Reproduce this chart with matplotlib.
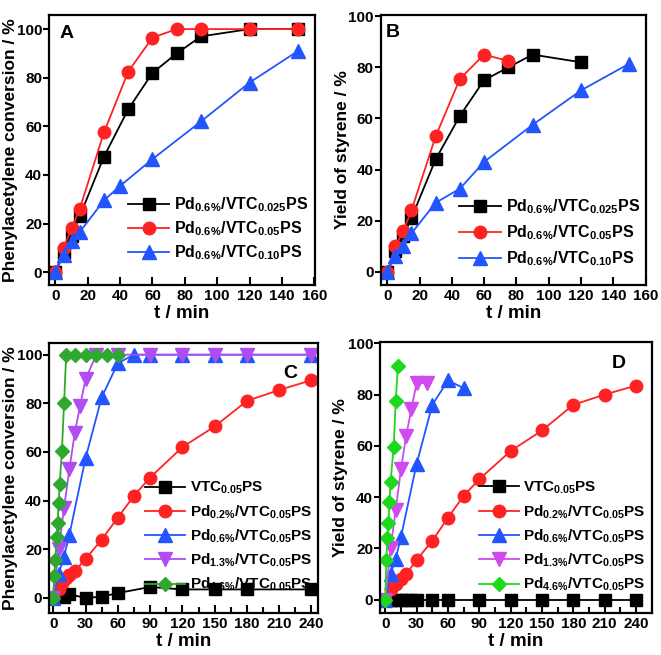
import matplotlib
matplotlib.use('Agg')
import matplotlib.pyplot as plt

plt.rcParams['font.family'] = ['Liberation Sans', 'DejaVu Sans']
plt.rcParams['font.weight'] = 'bold'
plt.rcParams['mathtext.fontset'] = 'custom'
plt.rcParams['mathtext.rm'] = 'Liberation Sans:bold'
plt.rcParams['mathtext.bf'] = 'Liberation Sans:bold'
plt.rcParams['mathtext.it'] = 'Liberation Sans:bold'

# ---- panel A: conversion, different VTC loading ----
a_t_025 = [0, 5, 10, 15, 30, 45, 60, 75, 90, 120, 150]
a_y_025 = [0, 8, 15, 23, 47.5, 67, 82, 90, 97, 100, 100]
a_t_05 = [0, 5, 10, 15, 30, 45, 60, 75, 90, 120, 150]
a_y_05 = [0, 10, 18, 26, 57.5, 82.5, 96.5, 100, 100, 100, 100]
a_t_10 = [0, 5, 10, 15, 30, 40, 60, 90, 120, 150]
a_y_10 = [0, 7, 13, 16.5, 29.5, 35.5, 46.5, 62, 78, 91]

# ---- panel B: styrene yield, different VTC loading ----
b_t_025 = [0, 5, 10, 15, 30, 45, 60, 75, 90, 120]
b_y_025 = [0, 8, 14, 21, 44, 61, 75, 80, 85, 82]
b_t_05 = [0, 5, 10, 15, 30, 45, 60, 75]
b_y_05 = [0, 10, 16, 24, 53, 75.5, 85, 82.5]
b_t_10 = [0, 5, 10, 15, 30, 45, 60, 90, 120, 150]
b_y_10 = [0, 6, 10, 15, 27, 32.5, 43, 57.5, 71, 81.5]

# ---- panel C: conversion, different Pd loading ----
c_t_vtc = [0, 10, 15, 30, 45, 60, 90, 120, 150, 180, 240]
c_y_vtc = [0, 0.5, 1.5, 0, 0.5, 2, 4.5, 3.5, 3.5, 3.5, 3.5]
c_t_02 = [0, 5, 8, 12, 15, 20, 30, 45, 60, 75, 90, 120, 150, 180, 210, 240]
c_y_02 = [0, 3.5, 6, 8, 9.5, 11, 16, 24, 33, 42, 49.5, 62, 70.5, 81, 85.5, 89.5]
c_t_06 = [0, 5, 10, 15, 30, 45, 60, 75, 90, 120, 150, 180, 240]
c_y_06 = [0, 10, 17, 26, 57.5, 82.5, 96.5, 100, 100, 100, 100, 100, 100]
c_t_13 = [0, 5, 10, 15, 20, 25, 30, 40, 60, 90, 120, 150, 180, 240]
c_y_13 = [0, 20, 37, 53, 68, 79, 90, 100, 100, 100, 100, 100, 100, 100]
c_t_46 = [0, 1, 2, 3, 4, 5, 6, 8, 10, 12, 20, 30, 40, 50, 60]
c_y_46 = [0, 9, 15.5, 25, 31, 39, 47, 60.5, 80, 100, 100, 100, 100, 100, 100]

# ---- panel D: styrene yield, different Pd loading ----
d_t_vtc = [0, 5, 10, 15, 20, 25, 30, 45, 60, 90, 120, 150, 180, 210, 240]
d_y_vtc = [0, 0, 0, 0, 0, 0, 0, 0, 0, 0, 0, 0, 0, 0, 0]
d_t_02 = [0, 5, 10, 15, 20, 30, 45, 60, 75, 90, 120, 150, 180, 210, 240]
d_y_02 = [0, 4, 6, 8, 10, 15.5, 23, 32, 40.5, 47, 58, 66, 76, 80, 83.5]
d_t_06 = [0, 5, 10, 15, 30, 45, 60, 75]
d_y_06 = [0, 10, 16, 24.5, 53, 76, 85.5, 82.5]
d_t_13 = [0, 5, 10, 15, 20, 25, 30, 40]
d_y_13 = [0, 20, 35, 51, 64, 74.5, 84.5, 84.5]
d_t_46 = [0, 1, 2, 3, 4, 5, 8, 10, 12]
d_y_46 = [0, 15.5, 24, 30, 38, 46, 59.5, 77.5, 91]

lab_a = [r'$\mathbf{Pd}_{\mathbf{0.6\%}}\mathbf{/VTC}_{\mathbf{0.025}}\mathbf{PS}$',
         r'$\mathbf{Pd}_{\mathbf{0.6\%}}\mathbf{/VTC}_{\mathbf{0.05}}\mathbf{PS}$',
         r'$\mathbf{Pd}_{\mathbf{0.6\%}}\mathbf{/VTC}_{\mathbf{0.10}}\mathbf{PS}$']
lab_c = [r'$\mathbf{VTC}_{\mathbf{0.05}}\mathbf{PS}$',
         r'$\mathbf{Pd}_{\mathbf{0.2\%}}\mathbf{/VTC}_{\mathbf{0.05}}\mathbf{PS}$',
         r'$\mathbf{Pd}_{\mathbf{0.6\%}}\mathbf{/VTC}_{\mathbf{0.05}}\mathbf{PS}$',
         r'$\mathbf{Pd}_{\mathbf{1.3\%}}\mathbf{/VTC}_{\mathbf{0.05}}\mathbf{PS}$',
         r'$\mathbf{Pd}_{\mathbf{4.6\%}}\mathbf{/VTC}_{\mathbf{0.05}}\mathbf{PS}$']

BLACK = 'black'
RED = '#ff2222'
BLUE = '#2255ff'
PURPLE_C = '#b04cf0'
PURPLE_D = '#d04af0'
GREEN_C = '#2ea82e'
GREEN_D = '#1ed81e'

fig = plt.figure(figsize=(6.61, 6.55), dpi=100)
axA = fig.add_axes([0.0741, 0.5649, 0.4025, 0.4122])
axB = fig.add_axes([0.576, 0.5649, 0.402, 0.4122])
axC = fig.add_axes([0.0741, 0.0641, 0.4069, 0.4122])
axD = fig.add_axes([0.575, 0.0641, 0.411, 0.4142])


def series(ax, t, y, color, marker, label, ms=8.5):
    ax.plot(t, y, color=color, marker=marker, ms=ms, lw=1.3,
            mec=color, mfc=color, label=label)


def style(ax, ylabel, xlim, ylim, xticks, letter, lpos):
    ax.set_xlim(*xlim)
    ax.set_ylim(*ylim)
    ax.set_xticks(xticks)
    ax.set_yticks([0, 20, 40, 60, 80, 100])
    for s in ax.spines.values():
        s.set_linewidth(1.6)
    ax.tick_params(axis='x', which='both', direction='in', length=6, width=1.5,
                   labelsize=11, pad=3)
    ax.tick_params(axis='y', direction='out', length=4, width=1.5, labelsize=11, pad=1)
    for lb in ax.get_xticklabels() + ax.get_yticklabels():
        lb.set_fontweight('bold')
    ax.set_xlabel('t / min', fontsize=13.5, fontweight='bold', labelpad=1)
    ax.set_ylabel(ylabel, fontsize=12.5, fontweight='bold')
    ax.yaxis.set_label_coords(-0.117, 0.5)
    ax.text(lpos[0], lpos[1], letter, transform=ax.transAxes, fontsize=14,
            fontweight='bold', ha='center', va='center')


series(axA, a_t_025, a_y_025, BLACK, 's', lab_a[0])
series(axA, a_t_05, a_y_05, RED, 'o', lab_a[1], ms=9)
series(axA, a_t_10, a_y_10, BLUE, '^', lab_a[2], ms=9.5)
style(axA, 'Phenylacetylene conversion / %', (-4, 160.5), (-5.3, 105.8),
      range(0, 161, 20), 'A', (0.066, 0.933))

series(axB, b_t_025, b_y_025, BLACK, 's', lab_a[0])
series(axB, b_t_05, b_y_05, RED, 'o', lab_a[1], ms=9)
series(axB, b_t_10, b_y_10, BLUE, '^', lab_a[2], ms=9.5)
style(axB, 'Yield of styrene / %', (-4, 160.5), (-5.2, 100.5),
      range(0, 161, 20), 'B', (0.045, 0.935))

series(axC, c_t_vtc, c_y_vtc, BLACK, 's', lab_c[0])
series(axC, c_t_02, c_y_02, RED, 'o', lab_c[1], ms=9)
series(axC, c_t_06, c_y_06, BLUE, '^', lab_c[2], ms=9.5)
series(axC, c_t_13, c_y_13, PURPLE_C, 'v', lab_c[3], ms=9.5)
series(axC, c_t_46, c_y_46, GREEN_C, 'D', lab_c[4], ms=7.5)
style(axC, 'Phenylacetylene conversion / %', (-4, 246), (-6.2, 104.8),
      range(0, 241, 30), 'C', (0.896, 0.888))

series(axD, d_t_vtc, d_y_vtc, BLACK, 's', lab_c[0])
series(axD, d_t_02, d_y_02, RED, 'o', lab_c[1], ms=9)
series(axD, d_t_06, d_y_06, BLUE, '^', lab_c[2], ms=9.5)
series(axD, d_t_13, d_y_13, PURPLE_D, 'v', lab_c[3], ms=9.5)
series(axD, d_t_46, d_y_46, GREEN_D, 'D', lab_c[4], ms=7.5)
style(axD, 'Yield of styrene / %', (-5, 255), (-5.2, 100.6),
      range(0, 241, 30), 'D', (0.877, 0.92))

for ax in (axC, axD):
    ax.set_xticks(range(15, 241, 30), minor=True)
    ax.tick_params(axis='x', which='minor', length=4, width=1.5)

axA.legend(loc='lower right', bbox_to_anchor=(1.0, 0.06), frameon=False,
           fontsize=11.5, handlelength=2.6, handletextpad=0.3,
           labelspacing=0.33, borderaxespad=0.0)
axB.legend(loc='lower right', bbox_to_anchor=(1.0, 0.04), frameon=False,
           fontsize=11.5, handlelength=2.6, handletextpad=0.3,
           labelspacing=0.45, borderaxespad=0.0)
for ax in (axC, axD):
    ax.legend(loc='lower right', bbox_to_anchor=(1.0, 0.05), frameon=False,
              fontsize=11, handlelength=2.6, handletextpad=0.3,
              labelspacing=0.45, borderaxespad=0.0)

fig.savefig('out.png', dpi=100)
